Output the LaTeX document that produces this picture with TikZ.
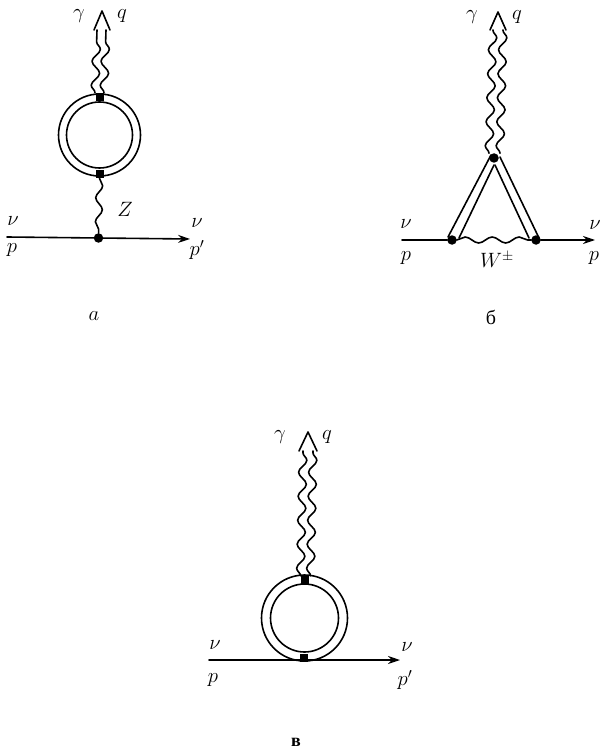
\documentclass[tikz,border=0pt]{standalone}
\usepackage{fontspec}
\setmainfont{Liberation Serif}
\usetikzlibrary{decorations.pathmorphing,arrows.meta}
\tikzset{
  every node/.append style={inner sep=0pt,outer sep=0pt},
  ln/.style={line width=1.6pt,line cap=round,line join=round},
  wav/.style={ln,decorate,decoration={snake,amplitude=4pt,segment length=24pt}},
  wavz/.style={ln,decorate,decoration={snake,amplitude=3.4pt,segment length=24pt}},
  wavw/.style={ln,decorate,decoration={snake,amplitude=3pt,segment length=27pt}},
  ring/.style={circle,draw,line width=1.6pt},
  vsq/.style={rectangle,fill=black,minimum width=8pt,minimum height=8.5pt},
  vdot/.style={circle,fill=black,minimum size=9.5pt},
  lab/.style={font=\fontsize{20}{20}\selectfont},
  fer/.style={ln,-{Stealth[length=12pt,width=8pt]}}
}
\begin{document}
\begin{tikzpicture}[x=1pt,y=-1pt]
\useasboundingbox (0,0) rectangle (600,751);
% panel a
\node[ring,minimum size=82pt] (aout) at (99.5,135) {};
\node[ring,minimum size=66pt] (ain) at (99.5,135) {};
\node[vsq] (at) at (99.5,97) {};
\node[vsq] (ab) at (99.5,174) {};
\node[vdot] (av) at (98.5,238) {};
\coordinate (aL) at (7,237);
\coordinate (aR) at (190,239);
\coordinate (ahead) at (102,11);
\coordinate (ahl) at (97,30);
\coordinate (ahr) at (106,30);
\coordinate (abl) at (94,30);
\coordinate (abr) at (110,30);
\draw[ln] (aL) -- (av);
\draw[fer] (av) -- (aR);
\draw[wavz] (ab) -- (av);
\draw[wav] ([xshift=-4.5pt]at.north) -- (ahl);
\draw[wav] ([xshift=4.5pt]at.north) -- (ahr);
\draw[ln] (abl) -- (ahead) -- (abr);
\node[lab] (ag) at (79,16) {$\gamma$};
\node[lab] (aq) at (122,16) {$q$};
\node[lab] (an1) at (13,221) {$\nu$};
\node[lab] (ap1) at (12,250) {$p$};
\node[lab] (an2) at (197,223) {$\nu$};
\node[lab] (ap2) at (197,250) {$p'$};
\node[lab] (aZ) at (125,209) {$Z$};
\node[lab] (atag) at (94,316) {$a$};
% panel b
\node[vdot] (bt) at (494,158) {};
\node[vdot] (bl) at (452,240) {};
\node[vdot] (br) at (536,240) {};
\coordinate (bL) at (402,240);
\coordinate (bR) at (595,240);
\coordinate (bhead) at (498,12);
\coordinate (bhl) at (493,30);
\coordinate (bhr) at (503,30);
\coordinate (bbl) at (490,30);
\coordinate (bbr) at (506,30);
\draw[ln] (bL) -- (bl);
\draw[fer] (br) -- (bR);
\draw[ln] (448,237) -- (491,155);
\draw[ln] (459,238) -- (494,165);
\draw[ln] (500,157) -- (539,238);
\draw[ln] (495,165) -- (529,238);
\draw[wavw] (bl) -- (br);
\draw[wav] ([xshift=-5pt]bt.north) -- (bhl);
\draw[wav] ([xshift=6pt]bt.north) -- (bhr);
\draw[ln] (bbl) -- (bhead) -- (bbr);
\node[lab] (bg) at (472,17) {$\gamma$};
\node[lab] (bq) at (517,17) {$q$};
\node[lab] (bn1) at (406,224) {$\nu$};
\node[lab] (bp1) at (406,258) {$p$};
\node[lab] (bn2) at (595,225) {$\nu$};
\node[lab] (bp2) at (594,258) {$p$};
\node[lab] (bW) at (497,260) {$W^{\pm}$};
\node[font=\fontsize{20}{20}\selectfont] (btag) at (491,317) {б};
% panel c
\node[ring,minimum size=86pt] (cout) at (304.5,618) {};
\node[ring,minimum size=68pt] (cin) at (304.5,618) {};
\node[vsq] (ct) at (304.5,580) {};
\node[vsq] (cb) at (304,658) {};
\coordinate (cL) at (209,660);
\coordinate (cR) at (400,660);
\coordinate (chead) at (308,432);
\coordinate (chl) at (303,451);
\coordinate (chr) at (313,451);
\coordinate (cbl) at (299,451);
\coordinate (cbr) at (317,451);
\draw[fer] (cL) -- (cR);
\draw[wav] ([xshift=-4pt]ct.north) -- (chl);
\draw[wav] ([xshift=6pt]ct.north) -- (chr);
\draw[ln] (cbl) -- (chead) -- (cbr);
\node[lab] (cg) at (280,437) {$\gamma$};
\node[lab] (cq) at (327,437) {$q$};
\node[lab] (cn1) at (215,645) {$\nu$};
\node[lab] (cp1) at (213,680) {$p$};
\node[lab] (cn2) at (407,647) {$\nu$};
\node[lab] (cp2) at (405,680) {$p'$};
\node[font=\fontsize{18}{18}\selectfont\bfseries] (ctag) at (296,742) {в};
\end{tikzpicture}
\end{document}
